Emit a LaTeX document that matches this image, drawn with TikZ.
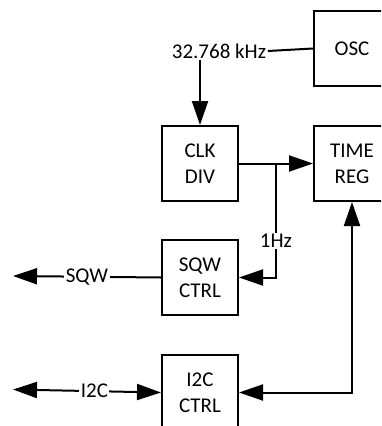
\documentclass[tikz,border=0pt]{standalone}
\usepackage{fontspec}
\setmainfont{Carlito}
\usetikzlibrary{arrows.meta,positioning,calc}

\tikzset{
  blk/.style={draw, line width=2pt, minimum width=76pt, minimum height=75pt, inner sep=0pt, align=center},
  lbl/.style={inner sep=1.5pt, fill=white},
  arr/.style={line width=2pt, -{Triangle[length=24pt,width=16pt]}},
  dbl/.style={line width=2pt, {Triangle[length=24pt,width=16pt]}-{Triangle[length=24pt,width=16pt]}},
}

\begin{document}
\begin{tikzpicture}[x=1pt, y=-1pt, node distance=37pt, every node/.style={font=\fontsize{21}{26}\selectfont}]
\useasboundingbox (0,0) rectangle (381,426);
\clip (0,0) rectangle (381,426);
% blocks
\node[blk] (clkdiv) at (200,163.5) {CLK\\DIV};
\node[blk, right=74pt of clkdiv] (timereg) {TIME\\REG};
\node[blk, above=38pt of timereg] (osc) {OSC};
\node[blk, below=of clkdiv] (sqwctrl) {SQW\\CTRL};
\node[blk, below=38pt of sqwctrl] (i2cctrl) {I2C\\CTRL};
% clock source
\node[lbl] (freq) at (219,51) {32.768 kHz};
\draw[line width=2pt] (freq.east) -- (osc.west);
\draw[arr] (freq.south -| clkdiv.north) -- (clkdiv.north);
% 1 Hz tick
\coordinate (tap) at ($(clkdiv.east)!0.5!(timereg.west)$);
\draw[arr] (clkdiv.east) -- (timereg.west);
\draw[arr] (tap) -- node[lbl, pos=0.68]{1Hz} (tap |- sqwctrl) -- (sqwctrl.east);
% outputs
\coordinate (sqwout) at (13,276);
\coordinate (i2cout) at (13,389.5);
\draw[arr] (sqwctrl.west) -- node[lbl]{SQW} (sqwout);
\draw[dbl] (i2cout) -- node[lbl, pos=0.55]{I2C} (i2cctrl.west);
\draw[dbl] (timereg.south) -- (timereg.south |- i2cctrl) -- (i2cctrl.east);
\end{tikzpicture}
\end{document}
